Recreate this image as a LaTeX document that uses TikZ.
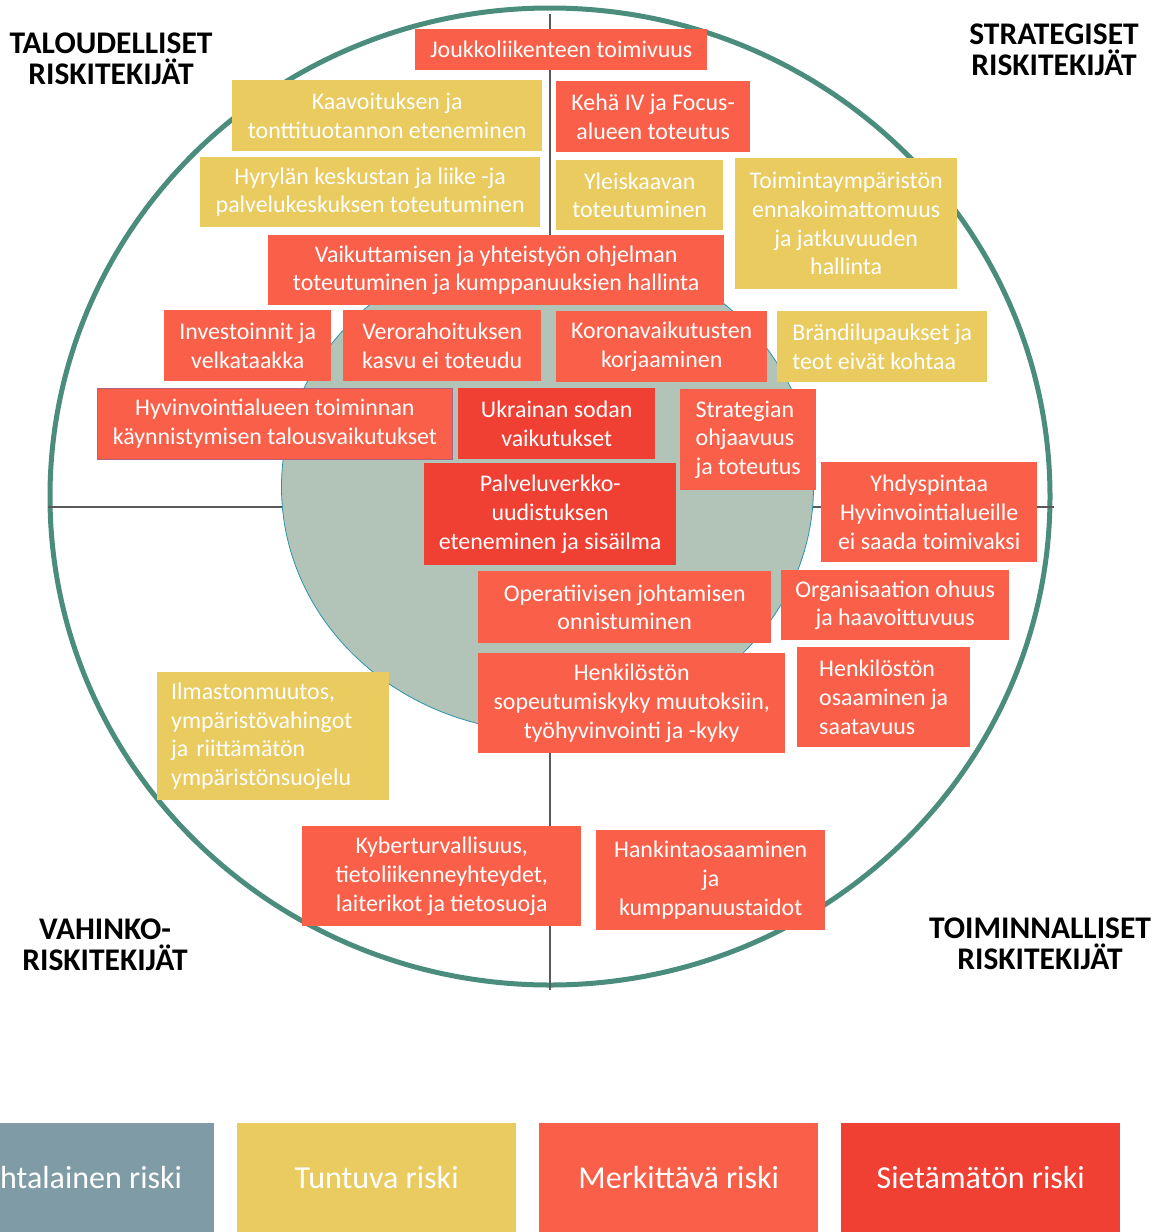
\documentclass[tikz,border=0pt]{standalone}
\usepackage{fontspec}
\setmainfont{Carlito}
\definecolor{merk}{HTML}{FA6049}
\definecolor{siet}{HTML}{F04033}
\definecolor{tunt}{HTML}{E9CB5F}
\definecolor{koht}{HTML}{7F9CA6}
\definecolor{ringc}{HTML}{4B8D7D}
\definecolor{innerc}{HTML}{B2C4B7}
\definecolor{innerline}{HTML}{2E93A8}
\definecolor{axisc}{HTML}{595959}
\definecolor{hvborder}{HTML}{B06080}
\newcommand\rb[8][center]{\node[riskbox, fill=#3, align=#1, minimum width=#6pt, minimum height=#7pt] (#2) at (#4,#5) {#8};}
\begin{document}
\begin{tikzpicture}[x=1pt,y=-1pt,
  riskbox/.style={inner sep=0pt, text=white, anchor=north west,
    font=\fontsize{23.9}{28.7}\selectfont},
  heading/.style={align=center, inner sep=0pt, text=black,
    font=\fontsize{31.5}{30.5}\selectfont\bfseries},
  legendbox/.style={minimum width=279pt, minimum height=109pt, inner sep=0pt,
    anchor=north west, text=white, font=\fontsize{32}{34}\selectfont},
  ringline/.style={draw=ringc, line width=5pt},
  axisline/.style={draw=axisc, line width=1.8pt},
  innerdisc/.style={fill=innerc, draw=innerline, line width=0.8pt}]
\useasboundingbox (0,0) rectangle (1160,1232);
\clip (0,0) rectangle (1160,1232);
\fill[white] (0,0) rectangle (1160,1232);

% outer ring and axes
\draw[ringline] (550,496.5) ellipse [x radius=500, y radius=488.5];
\coordinate (vtop) at (550,14);
\coordinate (vbot) at (550,990);
\coordinate (hleft) at (48,507);
\coordinate (hright) at (1054,507);
\draw[axisline] (vtop) -- (vbot);
\draw[axisline] (hleft) -- (hright);
% inner disc
\draw[innerdisc] (547.5,487) ellipse [x radius=266, y radius=245];

% headings
\node[heading] (htal) at (111,59) {TALOUDELLISET\\RISKITEKIJÄT};
\node[heading] (hstr) at (1054,50) {STRATEGISET\\RISKITEKIJÄT};
\node[heading] (hvah) at (105,945) {VAHINKO-\\RISKITEKIJÄT};
\node[heading] (htoi) at (1040,944) {TOIMINNALLISET\\RISKITEKIJÄT};

% risk boxes
\rb{joukko}{merk}{415}{29}{292}{41}{Joukkoliikenteen toimivuus}
\rb{kaav}{tunt}{232}{80}{310}{71}{Kaavoituksen ja\\tonttituotannon eteneminen}
\rb{keha}{merk}{556}{81}{194}{71}{Kehä IV ja Focus-\\alueen toteutus}
\rb{hyry}{tunt}{200}{157}{340}{70}{Hyrylän keskustan ja liike -ja\\palvelukeskuksen toteutuminen}
\rb{yleis}{tunt}{556}{160}{167}{70}{Yleiskaavan\\toteutuminen}
\rb{toim}{tunt}{735}{158}{222}{131}{Toimintaympäristön\\ennakoimattomuus\\ja jatkuvuuden\\hallinta}
\rb{vaik}{merk}{268}{235}{456}{70}{Vaikuttamisen ja yhteistyön ohjelman\\toteutuminen ja kumppanuuksien hallinta}
\rb{inv}{merk}{164}{310}{167}{71}{Investoinnit ja\\velkataakka}
\rb{vero}{merk}{343}{310}{198}{71}{Verorahoituksen\\kasvu ei toteudu}
\rb{korona}{merk}{556}{311}{211}{71}{Koronavaikutusten\\korjaaminen}
\rb[left]{brand}{tunt}{777}{311}{210}{71}{Brändilupaukset ja\\teot eivät kohtaa}
\node[riskbox, fill=merk, draw=hvborder, line width=0.8pt, align=center, minimum width=355pt, minimum height=71pt] (hyvin) at (97,388) {Hyvinvointialueen toiminnan\\käynnistymisen talousvaikutukset};
\rb{ukr}{siet}{458}{388}{197}{71}{Ukrainan sodan\\vaikutukset}
\rb[left]{strat}{merk}{680}{389}{136}{101}{Strategian\\ohjaavuus\\ja toteutus}
\rb{palv}{siet}{424}{463}{252}{102}{Palveluverkko-\\uudistuksen\\eteneminen ja sisäilma}
\rb{yhdys}{merk}{821}{462}{216}{100}{Yhdyspintaa\\Hyvinvointialueille\\ei saada toimivaksi}
\rb{oper}{merk}{478}{571}{293}{72}{Operatiivisen johtamisen\\onnistuminen}
\rb{org}{merk}{781}{570}{228}{70}{Organisaation ohuus\\ja haavoittuvuus}
\rb{henk}{merk}{478}{653}{307}{100}{Henkilöstön\\sopeutumiskyky muutoksiin,\\työhyvinvointi ja -kyky}
\rb[left]{osaa}{merk}{797}{647}{173}{100}{Henkilöstön\\osaaminen ja\\saatavuus}
\node[riskbox, fill=tunt, align=left, text width=204pt, inner xsep=14pt, minimum height=128pt] (ilma) at (157,672) {Ilmastonmuutos,\\ympäristövahingot\\ja riittämätön\\ympäristönsuojelu};
\rb{kyber}{merk}{302}{826}{279}{100}{Kyberturvallisuus,\\tietoliikenneyhteydet,\\laiterikot ja tietosuoja}
\rb{hank}{merk}{596}{830}{229}{100}{Hankintaosaaminen\\ja\\kumppanuustaidot}

% legend
\node[legendbox, fill=koht] (lkoht) at (-65,1123) {Kohtalainen riski};
\node[legendbox, fill=tunt] (ltunt) at (237,1123) {Tuntuva riski};
\node[legendbox, fill=merk] (lmerk) at (539,1123) {Merkittävä riski};
\node[legendbox, fill=siet] (lsiet) at (841,1123) {Sietämätön riski};
\end{tikzpicture}
\end{document}
